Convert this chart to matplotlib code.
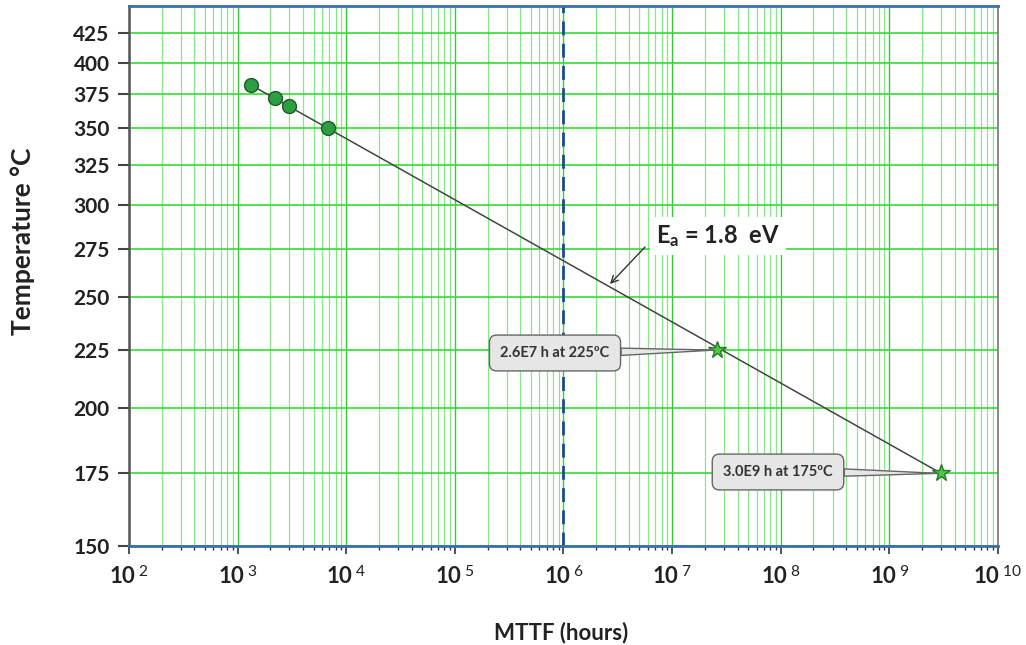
import numpy as np
import matplotlib
matplotlib.use("Agg")  # No GUI
import matplotlib.pyplot as plt
from matplotlib.ticker import LogLocator, FixedLocator, NullFormatter

# Stress test results and extrapolated use conditions
mttf_test = [1.33e3, 2.2e3, 3.0e3, 6.8e3]
temp_test = [382, 372, 366, 350]
mttf_use = [2.6e7, 3.0e9]
temp_use = [225, 175]
use_labels = ["2.6E7 h at 225ºC", "3.0E9 h at 175ºC"]

# Arrhenius fit line end points
fit_mttf = [mttf_test[0], mttf_use[1]]
fit_temp = [temp_test[0], temp_use[1]]

y_ticks = [150, 175, 200, 225, 250, 275, 300, 325, 350, 375, 400, 425]
x_decades = list(range(2, 11))

plt.rcParams['font.family'] = ['Lato', 'DejaVu Sans']
plt.rcParams['mathtext.fontset'] = 'custom'
plt.rcParams['mathtext.rm'] = 'Lato'
plt.rcParams['mathtext.bf'] = 'Lato:bold'
plt.rcParams['mathtext.it'] = 'Lato:italic'


def inv_kelvin(t):
    return -1.0 / (np.asarray(t, dtype=float) + 273.15)


def from_inv_kelvin(u):
    return -1.0 / np.asarray(u, dtype=float) - 273.15


fig = plt.figure(figsize=(10.26, 6.45), dpi=100)
ax = fig.add_axes([0.1257, 0.1535, 0.847, 0.8372])

ax.set_xscale('log')
ax.set_yscale('function', functions=(inv_kelvin, from_inv_kelvin))
ax.set_xlim(1e2, 1e10)
ax.set_ylim(150, 450)

ax.xaxis.set_minor_locator(LogLocator(base=10, subs=np.arange(2, 10), numticks=20))
ax.xaxis.set_minor_formatter(NullFormatter())
ax.set_xticks([10.0 ** d for d in x_decades])
ax.set_xticklabels([r"$\mathbf{10}^{\;\mathrm{%d}}$" % d for d in x_decades])
ax.yaxis.set_major_locator(FixedLocator(y_ticks))
ax.yaxis.set_minor_locator(FixedLocator([]))
ax.set_yticklabels([str(t) for t in y_ticks])

ax.grid(which='major', axis='x', color='#33cc33', linewidth=1.0)
ax.grid(which='minor', axis='x', color='#88e888', linewidth=0.9)
ax.grid(which='major', axis='y', color='#33dd33', linewidth=1.2)
ax.set_axisbelow(True)

ax.tick_params(axis='y', which='major', length=8, width=1.5, color='#444444',
               labelsize=15, pad=6)
ax.tick_params(axis='x', which='major', length=6, width=1.2, color='#333333',
               labelsize=16, pad=8)
ax.tick_params(axis='x', which='minor', length=3, width=1.0, color='#333333')
for lab in ax.get_yticklabels():
    lab.set_fontweight('bold')
    lab.set_color('#222222')
for lab in ax.get_xticklabels():
    lab.set_color('#222222')

ax.spines['left'].set_color('#555555')
ax.spines['left'].set_linewidth(1.8)
ax.spines['right'].set_color('#777777')
ax.spines['right'].set_linewidth(1.2)
ax.spines['top'].set_color('#3a70a8')
ax.spines['top'].set_linewidth(2.0)
ax.spines['bottom'].set_color('#3a70a8')
ax.spines['bottom'].set_linewidth(2.0)

# 1e6 hour reference
ax.axvline(1e6, color='#1f4a8a', linewidth=2.0, linestyle=(0, (5, 3)), zorder=2)

ax.plot(fit_mttf, fit_temp, color='#444444', linewidth=1.1, zorder=3)
ax.plot(mttf_test, temp_test, linestyle='none', marker='o', markersize=10,
        markerfacecolor='#2e9e45', markeredgecolor='#1f5a2a',
        markeredgewidth=1.0, zorder=4)
ax.plot(mttf_use, temp_use, linestyle='none', marker='*', markersize=13,
        markerfacecolor='#44cc44', markeredgecolor='#2a7a2a',
        markeredgewidth=1.0, zorder=4)

box_pos = [(555, 353), (778, 472)]
for lab, xv, yv, (px, py) in zip(use_labels, mttf_use, temp_use, box_pos):
    ax.annotate(lab, xy=(xv, yv), xycoords='data',
                xytext=(px, 645 - py), textcoords='figure pixels',
                ha='center', va='center', fontsize=10.5, fontweight='bold',
                color='#333333', zorder=5,
                bbox=dict(boxstyle='round,pad=0.75,rounding_size=0.5',
                          facecolor='#e6e6e6', edgecolor='#666666',
                          linewidth=1.0),
                arrowprops=dict(arrowstyle='wedge,tail_width=0.5,shrink_factor=0.5',
                                facecolor='#e6e6e6', edgecolor='#666666',
                                linewidth=1.0, shrinkA=0, shrinkB=2))

# activation energy label with its pointer onto the fit line
ax.text(656, 645 - 236, r"E$_{\mathbf{a}}$" + " = 1.8  eV",
        transform=None, ha='left', va='center', fontsize=17,
        fontweight='bold', color='#222222', zorder=5,
        bbox=dict(boxstyle='square,pad=0.25', facecolor='white',
                  edgecolor='none'))
ax.annotate("", xy=(610, 645 - 284), xycoords='figure pixels',
            xytext=(645, 645 - 247), textcoords='figure pixels', zorder=6,
            arrowprops=dict(arrowstyle='->,head_length=0.5,head_width=0.25',
                            color='#333333', linewidth=1.0,
                            shrinkA=0, shrinkB=0))

ax.set_xlabel("MTTF (hours)", fontsize=16, fontweight='bold', color='#222222')
ax.xaxis.set_label_coords(0.497, -0.14)
ax.set_ylabel("Temperature °C", fontsize=19, fontweight='bold', color='#222222')
ax.yaxis.set_label_coords(-0.108, 0.565)

fig.savefig("out.png", dpi=100)
